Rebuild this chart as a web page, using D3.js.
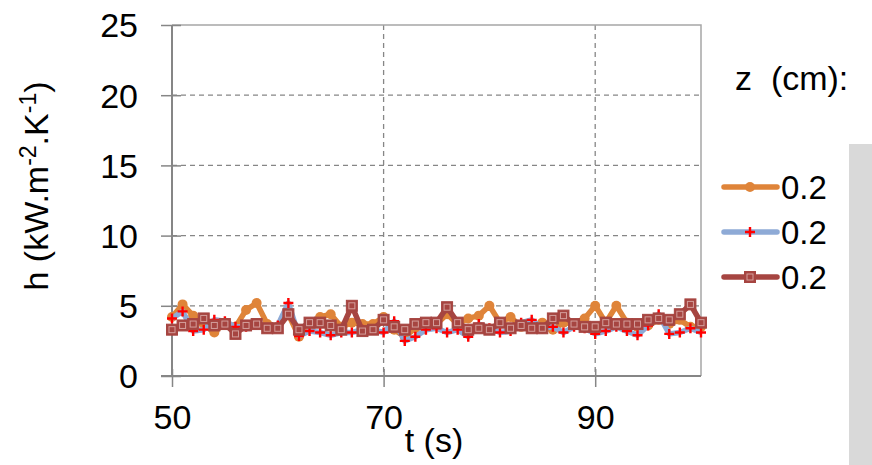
<!DOCTYPE html>
<html>
<head>
<meta charset="utf-8">
<script src="https://cdn.jsdelivr.net/npm/d3@7"></script>
<style>
	body { margin: 0; background: #fff; }
	text { font-family: "Liberation Sans", Arial, sans-serif; fill: #000; }
</style>
</head>
<body>
<svg id="chart" width="872" height="465"></svg>
<script>
// time (s)
var times = [50, 51, 52, 53, 54, 55, 56, 57, 58, 59,
	60, 61, 62, 63, 64, 65, 66, 67, 68, 69,
	70, 71, 72, 73, 74, 75, 76, 77, 78, 79,
	80, 81, 82, 83, 84, 85, 86, 87, 88, 89,
	90, 91, 92, 93, 94, 95, 96, 97, 98, 99, 100];

// h (kW.m-2.K-1), one array per series
var hOrange = [4.2, 5.1, 4.3, 3.7, 3.1, 3.8, 3.5, 4.7, 5.2, 3.7,
	3.5, 4.4, 2.8, 3.5, 4.2, 4.4, 3.5, 3.8, 3.7, 3.7,
	4.2, 3.3, 2.8, 3.4, 3.8, 3.7, 4.4, 3.7, 4.1, 4.3,
	5.0, 3.8, 4.2, 3.5, 3.6, 3.8, 3.3, 3.8, 3.7, 4.1,
	5.0, 3.8, 5.0, 3.8, 3.5, 3.6, 4.0, 3.7, 4.0, 3.5, 3.5];
var hBlue = [4.1, 4.6, 3.2, 3.3, 4.0, 3.9, 3.5, 3.5, 3.7, 3.4,
	3.6, 5.2, 2.85, 3.2, 3.1, 2.9, 3.1, 3.1, 3.3, 3.3,
	3.1, 3.9, 2.5, 2.8, 3.3, 3.4, 3.1, 3.3, 2.8, 3.7,
	3.4, 3.1, 3.2, 3.8, 4.0, 3.4, 3.5, 3.1, 3.5, 3.4,
	3.0, 3.2, 3.5, 3.2, 2.9, 3.6, 4.4, 3.0, 3.1, 3.4, 3.1];
var hBrown = [3.3, 3.6, 3.7, 4.1, 3.6, 3.7, 3.0, 3.6, 3.7, 3.4,
	3.4, 4.4, 3.3, 3.8, 3.8, 3.6, 3.3, 5.0, 3.2, 3.3,
	4.0, 3.5, 3.3, 3.7, 3.8, 3.8, 4.9, 3.8, 3.3, 3.4,
	3.3, 3.8, 3.4, 3.6, 3.4, 3.4, 4.1, 4.3, 3.7, 3.5,
	3.5, 3.8, 3.7, 3.7, 3.7, 4.0, 4.1, 4.0, 4.4, 5.1, 3.8];

var legendLabels = ["0.2", "0.2", "0.2"];
var xTicks = [50, 70, 90];
var yTicks = [0, 5, 10, 15, 20, 25];

var series = [
	{name: legendLabels[0], values: hOrange, color: "#df8439", marker: "circle"},
	{name: legendLabels[1], values: hBlue, color: "#8eaad6", marker: "plus"},
	{name: legendLabels[2], values: hBrown, color: "#a64541", marker: "square"}
];

var svg = d3.select("#chart");
var axisColor = "#868686";

var x = d3.scaleLinear().domain([50, 100]).range([172, 701]);
var y = d3.scaleLinear().domain([0, 25]).range([376, 25]);

// gray box on the right
svg.append("rect")
	.attr("x", 849).attr("y", 144)
	.attr("width", 30).attr("height", 330)
	.attr("fill", "#d9d9d9");

// dashed gridlines
svg.append("g").selectAll("line")
	.data(yTicks.filter(function(d) { return d > 0 && d < 25; }))
	.enter().append("line")
	.attr("x1", x(50)).attr("x2", x(100))
	.attr("y1", function(d) { return y(d); })
	.attr("y2", function(d) { return y(d); })
	.attr("stroke", axisColor).attr("stroke-width", 1.3)
	.attr("stroke-dasharray", "5,4");

svg.append("g").selectAll("line")
	.data(xTicks.filter(function(d) { return d > 50; }))
	.enter().append("line")
	.attr("x1", function(d) { return x(d); })
	.attr("x2", function(d) { return x(d); })
	.attr("y1", y(25)).attr("y2", y(0))
	.attr("stroke", axisColor).attr("stroke-width", 1.3)
	.attr("stroke-dasharray", "5,4");

// plot area border (top and right)
svg.append("path")
	.attr("d", "M" + x(50) + "," + y(25) + "H" + x(100) + "V" + y(0))
	.attr("fill", "none")
	.attr("stroke", "#a6a6a6").attr("stroke-width", 1.5);

// axes, ticks cross the lines
var yAxis = d3.axisLeft(y).tickValues(yTicks).tickSize(11).tickPadding(23);
var gy = svg.append("g").attr("transform", "translate(" + x(50) + ",0)").call(yAxis);
var xAxis = d3.axisBottom(x).tickValues(xTicks).tickSize(11).tickPadding(18);
var gx = svg.append("g").attr("transform", "translate(0," + y(0) + ")").call(xAxis);

[gy, gx].forEach(function(g) {
	g.select(".domain").remove();
	g.selectAll(".tick line").attr("stroke", axisColor).attr("stroke-width", 1.5);
	g.selectAll(".tick text")
		.style("font-family", "'Liberation Sans', Arial, sans-serif")
		.style("font-size", "34px").attr("fill", "#000");
});
gy.selectAll(".tick line").attr("x1", 9);
gx.selectAll(".tick line").attr("y1", -7);
gy.selectAll(".tick text").attr("dy", "0.35em");

svg.append("line")
	.attr("x1", x(50)).attr("x2", x(50))
	.attr("y1", y(25)).attr("y2", y(0))
	.attr("stroke", axisColor).attr("stroke-width", 2);
svg.append("line")
	.attr("x1", x(50) - 11).attr("x2", x(100))
	.attr("y1", y(0)).attr("y2", y(0))
	.attr("stroke", axisColor).attr("stroke-width", 2);

// markers
function drawMarker(g, type, color, cx, cy) {
	if (type == "circle") {
		g.append("circle").attr("cx", cx).attr("cy", cy).attr("r", 5)
			.attr("fill", color);
	}
	else if (type == "square") {
		g.append("rect").attr("x", cx - 5.5).attr("y", cy - 5.5)
			.attr("width", 11).attr("height", 11)
			.attr("fill", color).attr("stroke", color).attr("stroke-width", 1);
		g.append("rect").attr("x", cx - 3).attr("y", cy - 3)
			.attr("width", 6).attr("height", 6)
			.attr("fill", "none").attr("stroke", "#d49e9b").attr("stroke-width", 1);
	}
	else {
		g.append("path")
			.attr("d", "M" + (cx - 5) + "," + cy + "h10M" + cx + "," + (cy - 5) + "v10")
			.attr("stroke", "#ff0000").attr("stroke-width", 2.4);
	}
}

var line = d3.line()
	.x(function(d, i) { return x(times[i]); })
	.y(function(d) { return y(d); });

series.forEach(function(s) {
	var g = svg.append("g");
	g.append("path")
		.attr("d", line(s.values))
		.attr("fill", "none")
		.attr("stroke", s.color).attr("stroke-width", 5.5)
		.attr("stroke-linejoin", "round");
	s.values.forEach(function(v, i) {
		drawMarker(g, s.marker, s.color, x(times[i]), y(v));
	});
});

// axis titles
svg.append("text")
	.attr("x", 434).attr("y", 452)
	.attr("text-anchor", "middle")
	.style("font-size", "34px")
	.text("t (s)");

var yTitle = svg.append("text")
	.attr("transform", "translate(48,186) rotate(-90)")
	.attr("text-anchor", "middle")
	.style("font-size", "34px");
yTitle.append("tspan").text("h (kW.m");
yTitle.append("tspan").attr("dy", -12).style("font-size", "23px").text("-2");
yTitle.append("tspan").attr("dy", 12).text(".K");
yTitle.append("tspan").attr("dy", -12).style("font-size", "23px").text("-1");
yTitle.append("tspan").attr("dy", 12).text(")");

// legend
svg.append("text")
	.attr("x", 735).attr("y", 90)
	.style("font-size", "34px")
	.style("white-space", "pre")
	.text("z  (cm):");

var legendY = [187, 232, 277];
series.forEach(function(s, i) {
	var g = svg.append("g");
	g.append("line")
		.attr("x1", 724).attr("x2", 777)
		.attr("y1", legendY[i]).attr("y2", legendY[i])
		.attr("stroke", s.color).attr("stroke-width", 5.5)
		.attr("stroke-linecap", "round");
	drawMarker(g, s.marker, s.color, 750, legendY[i]);
	g.append("text")
		.attr("x", 781).attr("y", legendY[i] + 12)
		.style("font-size", "33px")
		.text(s.name);
});
</script>
</body>
</html>
